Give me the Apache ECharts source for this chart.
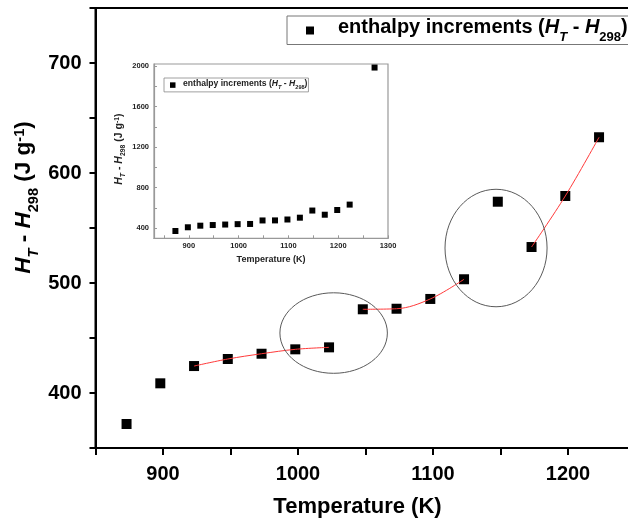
<!DOCTYPE html>
<html><head><meta charset="utf-8">
<script src="https://cdn.jsdelivr.net/npm/echarts@6/dist/echarts.min.js"></script>
<style>html,body{margin:0;padding:0;background:#fff}#c{width:628px;height:519px}</style>
</head><body><div id="c"></div>
<script>
// ---- data ----
const temperatures = [873, 898, 923, 948, 973, 998, 1023, 1048, 1073, 1098, 1123, 1148, 1173, 1198, 1223];
const enthalpyIncrements = [371.8, 408.8, 424.5, 430.9, 435.7, 439.7, 441.5, 476.1, 476.6, 485.5, 503.4, 573.9, 532.7, 579.1, 632.5];
const insetExtraTemperatures = [1273];
const insetExtraEnthalpy = [1985];
const fitSegments = [[923, 1023], [1048, 1123], [1173, 1223]];
const mainXLabels = [900, 1000, 1100, 1200];
const mainYLabels = [400, 500, 600, 700];
const insetXLabels = [900, 1000, 1100, 1200, 1300];
const insetXTicks = [850, 900, 950, 1000, 1050, 1100, 1150, 1200, 1250, 1300];
const insetYLabels = [400, 800, 1200, 1600, 2000];
const insetYTicks = [400, 600, 800, 1000, 1200, 1400, 1600, 1800, 2000];
// annotation ellipses (data coordinates: centre T, centre H, radius T, radius H)
const circledRegions = [[1026.4, 454.5, 39.8, 36.6], [1146.7, 531.8, 37.8, 53.4]];

const FONT = '"Liberation Sans", Arial, Helvetica, sans-serif';
const seriesName = 'enthalpy increments';

function rich(F, color, gap) {
  const base = {fontFamily: FONT, fontWeight: 'bold', color: color};
  const L = F * 1.3, f = F * 0.65;
  return {
    n: Object.assign({fontSize: F, lineHeight: L, verticalAlign: 'top'}, base),
    i: Object.assign({fontSize: F, lineHeight: L, verticalAlign: 'top', fontStyle: 'italic'}, base),
    s: Object.assign({fontSize: f, lineHeight: f, verticalAlign: 'bottom'}, base),
    si: Object.assign({fontSize: f, lineHeight: f, verticalAlign: 'bottom', fontStyle: 'italic'}, base),
    p: Object.assign({fontSize: f, lineHeight: F * 0.83, verticalAlign: 'top'}, base),
    g: Object.assign({fontSize: F, lineHeight: L, width: gap || 0, verticalAlign: 'top'}, base)
  };
}
const htText = '{i|H}{si|T}{n| - }{i|H}{s|298}';
const yTitle = htText + '{n| (J g}{p|-1}{n|)}';
const legendText = '{g|\u00a0}{n|enthalpy increments (}' + htText + '{n|)}';

const mainPts = temperatures.map((t, k) => [t, enthalpyIncrements[k]]);
const insetPts = mainPts.concat(insetExtraTemperatures.map((t, k) => [t, insetExtraEnthalpy[k]]));
const fitSeries = fitSegments.map((seg, k) => ({
  type: 'line', name: 'fit' + k, xAxisIndex: 0, yAxisIndex: 0,
  data: mainPts.filter(p => p[0] >= seg[0] && p[0] <= seg[1]),
  smooth: 0.35, showSymbol: false, symbol: 'none', silent: true, z: 5,
  lineStyle: {color: '#ff3a3a', width: 1}
}));

const chart = echarts.init(document.getElementById('c'), null, {renderer: 'canvas'});
chart.setOption({
  animation: false,
  backgroundColor: '#fff',
  grid: [
    {left: 95.5, top: 8, width: 540, height: 440, show: true, borderColor: '#000', borderWidth: 2,
      outerBoundsMode: 'none', containLabel: false},
    {left: 154, top: 64, width: 234, height: 174.3, show: true, borderColor: '#999', borderWidth: 1.2,
      backgroundColor: '#fff', outerBoundsMode: 'none', containLabel: false}
  ],
  legend: [
    {
      left: 287, top: 16, orient: 'horizontal', selectedMode: false,
      data: [{name: seriesName, icon: 'rect'}],
      itemWidth: 8, itemHeight: 8, padding: [1.5, 12, 1, 19],
      borderColor: '#777', borderWidth: 1, backgroundColor: '#fff',
      formatter: () => legendText,
      textStyle: {rich: rich(20, '#000', 19)}
    },
    {
      left: 164, top: 78, orient: 'horizontal', selectedMode: false,
      data: [{name: seriesName, icon: 'rect'}],
      itemWidth: 5.5, itemHeight: 5.5, padding: [1.5, 1, 1.2, 6],
      borderColor: '#888', borderWidth: 0.8, backgroundColor: '#fff',
      formatter: () => legendText,
      textStyle: {rich: rich(8.6, '#222', 2.5)}
    }
  ],
  xAxis: [
    {
      type: 'value', gridIndex: 0, min: 850, max: 1250, interval: 50,
      name: 'Temperature (K)', nameLocation: 'middle', nameGap: 48, nameMoveOverlap: false,
      nameTextStyle: {fontFamily: FONT, fontWeight: 'bold', fontSize: 22, color: '#000', padding: [0, 16, 0, 0]},
      axisLine: {show: true, lineStyle: {color: '#000', width: 2}},
      axisTick: {show: true, length: 7, lineStyle: {color: '#000', width: 2}},
      axisLabel: {margin: 16, fontFamily: FONT, fontWeight: 'bold', fontSize: 20, color: '#000',
        formatter: v => mainXLabels.indexOf(v) >= 0 ? String(v) : ''},
      splitLine: {show: false}
    },
    {
      type: 'value', gridIndex: 1, min: 830, max: 1300,
      name: 'Temperature (K)', nameLocation: 'middle', nameGap: 17,
      nameTextStyle: {fontFamily: FONT, fontWeight: 'bold', fontSize: 9, color: '#222'},
      axisLine: {show: true, lineStyle: {color: '#999', width: 1.2}},
      axisTick: {show: true, inside: true, length: 3, customValues: insetXTicks, lineStyle: {color: '#999', width: 1}},
      axisLabel: {margin: 4, customValues: insetXLabels, fontFamily: FONT, fontWeight: 'bold', fontSize: 7.5, color: '#222',
        formatter: v => insetXLabels.indexOf(v) >= 0 ? String(v) : ''},
      splitLine: {show: false}
    }
  ],
  yAxis: [
    {
      type: 'value', gridIndex: 0, min: 350, max: 750, interval: 50,
      name: yTitle, nameLocation: 'middle', nameRotate: 90, nameGap: 54, nameMoveOverlap: false,
      nameTextStyle: {rich: rich(22.5, '#000'), padding: [0, 0, 0, 61]},
      axisLine: {show: true, lineStyle: {color: '#000', width: 2}},
      axisTick: {show: true, length: 6, lineStyle: {color: '#000', width: 2}},
      axisLabel: {margin: 14, fontFamily: FONT, fontWeight: 'bold', fontSize: 20, color: '#000',
        formatter: v => mainYLabels.indexOf(v) >= 0 ? String(v) : ''},
      splitLine: {show: false}
    },
    {
      type: 'value', gridIndex: 1, min: 300, max: 2020,
      name: yTitle, nameLocation: 'middle', nameRotate: 90, nameGap: 27,
      nameTextStyle: {rich: rich(10.5, '#222'), padding: [0, 0, 0, 4]},
      axisLine: {show: true, lineStyle: {color: '#999', width: 1.2}},
      axisTick: {show: true, inside: true, length: 3, customValues: insetYTicks, lineStyle: {color: '#999', width: 1}},
      axisLabel: {margin: 5, customValues: insetYLabels, fontFamily: FONT, fontWeight: 'bold', fontSize: 7.5, color: '#222',
        formatter: v => insetYLabels.indexOf(v) >= 0 ? String(v) : ''},
      splitLine: {show: false}
    }
  ],
  series: [
    {type: 'scatter', name: seriesName, xAxisIndex: 0, yAxisIndex: 0, data: mainPts,
      symbol: 'rect', symbolSize: 10, itemStyle: {color: '#000', opacity: 1}, z: 3}
  ].concat(fitSeries).concat([
    {type: 'scatter', name: seriesName, xAxisIndex: 1, yAxisIndex: 1, data: insetPts,
      symbol: 'rect', symbolSize: 6, itemStyle: {color: '#000', opacity: 1}, z: 3}
  ])
});

const ellipses = circledRegions.map(r => {
  const c = chart.convertToPixel({gridIndex: 0}, [r[0], r[1]]);
  const e = chart.convertToPixel({gridIndex: 0}, [r[0] + r[2], r[1] + r[3]]);
  return {
    type: 'ellipse', silent: true, z: 10,
    shape: {cx: c[0], cy: c[1], rx: Math.abs(e[0] - c[0]), ry: Math.abs(e[1] - c[1])},
    style: {fill: 'none', stroke: '#5a5a5a', lineWidth: 1}
  };
});
chart.setOption({graphic: ellipses});
</script></body></html>
